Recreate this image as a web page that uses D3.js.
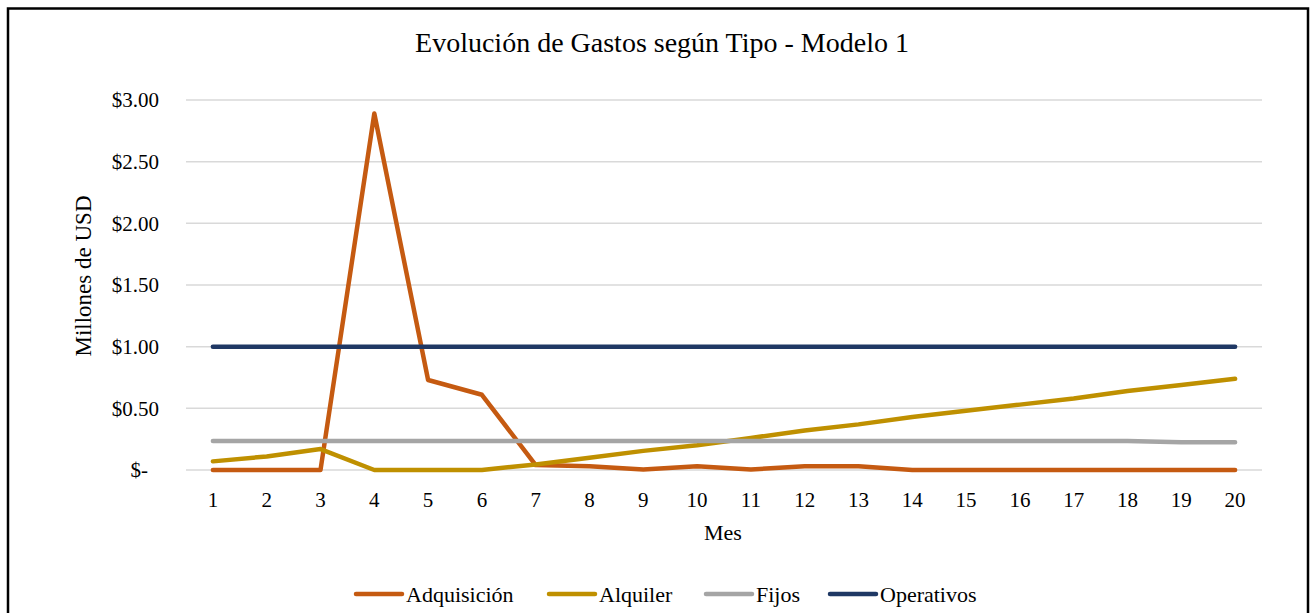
<!DOCTYPE html>
<html>
<head>
<meta charset="utf-8">
<script src="https://cdn.jsdelivr.net/npm/d3@7"></script>
<style>
  body { margin: 0; background: #fff; }
</style>
</head>
<body>
<script>
// data (millones de USD por mes)
const meses = d3.range(1, 21);
const adquisicion = [0, 0, 0, 2.89, 0.73, 0.61, 0.04, 0.03, 0.005, 0.03, 0.005, 0.03, 0.03, 0, 0, 0, 0, 0, 0, 0];
const alquiler = [0.07, 0.11, 0.17, 0, 0, 0, 0.045, 0.10, 0.155, 0.20, 0.26, 0.32, 0.37, 0.43, 0.48, 0.53, 0.58, 0.64, 0.69, 0.74];
const fijos = [0.235, 0.235, 0.235, 0.235, 0.235, 0.235, 0.235, 0.235, 0.235, 0.235, 0.235, 0.235, 0.235, 0.235, 0.235, 0.235, 0.235, 0.235, 0.225, 0.225];
const operativos = [1, 1, 1, 1, 1, 1, 1, 1, 1, 1, 1, 1, 1, 1, 1, 1, 1, 1, 1, 1];
const yTicks = [0, 0.5, 1, 1.5, 2, 2.5, 3];

const series = [
  { name: "Adquisición", values: adquisicion, color: "#C55A11" },
  { name: "Alquiler", values: alquiler, color: "#BF9000" },
  { name: "Fijos", values: fijos, color: "#A5A5A5" },
  { name: "Operativos", values: operativos, color: "#1F3864" }
];

// constants
const width = 1311;
const height = 613;
const margin = { left: 186, right: 49, top: 100, bottom: 143 };

const svg = d3.select("body").append("svg")
    .attr("width", width)
    .attr("height", height)
    .attr("font-family", "'Liberation Serif', 'Times New Roman', serif");

// chart border
svg.append("rect")
    .attr("x", 8)
    .attr("y", 8.5)
    .attr("width", 1300)
    .attr("height", 620)
    .style("fill", "#fff")
    .style("stroke", "#000")
    .style("stroke-width", 2.5);

const x = d3.scalePoint()
    .domain(meses)
    .range([margin.left, width - margin.right])
    .padding(0.5);

const y = d3.scaleLinear()
    .domain([0, 3])
    .range([height - margin.bottom, margin.top]);

// gridlines
svg.append("g")
    .selectAll("line")
    .data(yTicks)
    .join("line")
    .attr("x1", margin.left)
    .attr("x2", width - margin.right)
    .attr("y1", d => y(d))
    .attr("y2", d => y(d))
    .style("stroke", "#d9d9d9")
    .style("stroke-width", 1.5);

// y axis labels
const fmt = d => d === 0 ? "$-" : "$" + d3.format(".2f")(d);
svg.append("g")
    .selectAll("text")
    .data(yTicks)
    .join("text")
    .attr("x", d => d === 0 ? 148 : 159)
    .attr("y", d => y(d))
    .attr("dy", "0.35em")
    .attr("text-anchor", "end")
    .style("font-size", "21px")
    .text(fmt);

// x axis labels
svg.append("g")
    .selectAll("text")
    .data(meses)
    .join("text")
    .attr("x", d => x(d))
    .attr("y", 507)
    .attr("text-anchor", "middle")
    .style("font-size", "21px")
    .text(d => d);

// lines
const line = d3.line()
    .x((d, i) => x(meses[i]))
    .y(d => y(d));

svg.append("g")
    .selectAll("path")
    .data(series)
    .join("path")
    .attr("d", d => line(d.values))
    .style("fill", "none")
    .style("stroke", d => d.color)
    .style("stroke-width", 4.5)
    .style("stroke-linejoin", "round")
    .style("stroke-linecap", "round");

// title
svg.append("text")
    .attr("x", 662)
    .attr("y", 52)
    .attr("text-anchor", "middle")
    .style("font-size", "28px")
    .text("Evolución de Gastos según Tipo - Modelo 1");

// axis titles
svg.append("text")
    .attr("x", 723)
    .attr("y", 540)
    .attr("text-anchor", "middle")
    .style("font-size", "22px")
    .text("Mes");

svg.append("text")
    .attr("transform", "rotate(-90)")
    .attr("x", -276)
    .attr("y", 91)
    .attr("text-anchor", "middle")
    .style("font-size", "23px")
    .text("Millones de USD");

// legend
const legendX = [354, 547, 704, 828];
const legend = svg.append("g")
    .selectAll("g")
    .data(series)
    .join("g")
    .attr("transform", (d, i) => `translate(${legendX[i]},594)`);

legend.append("line")
    .attr("x1", 2)
    .attr("x2", 48)
    .style("stroke", d => d.color)
    .style("stroke-width", 4.5)
    .style("stroke-linecap", "round");

legend.append("text")
    .attr("x", 52)
    .attr("dy", "0.35em")
    .style("font-size", "22px")
    .text(d => d.name);
</script>
</body>
</html>
